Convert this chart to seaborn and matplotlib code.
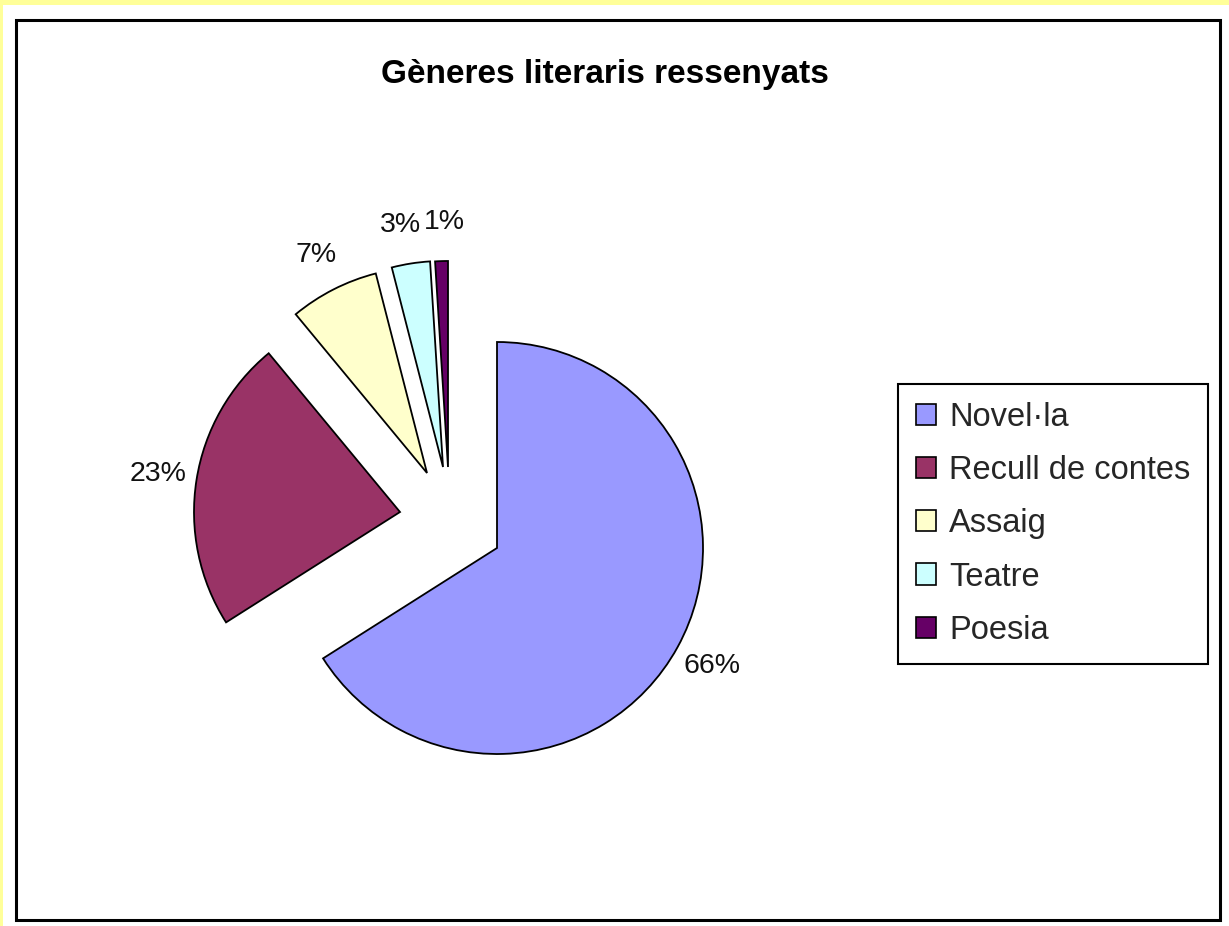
import matplotlib
matplotlib.use("Agg")
import matplotlib.pyplot as plt
import seaborn as sns
from matplotlib.patches import Rectangle, Patch

# ---- data ----
categories = ["Novel·la", "Recull de contes", "Assaig", "Teatre", "Poesia"]
values = [66, 23, 7, 3, 1]
title = "Gèneres literaris ressenyats"

sns.set_theme(style="white")
plt.rcParams["font.family"] = ["Liberation Sans", "DejaVu Sans"]

colors = sns.color_palette(["#9999FF", "#993366", "#FFFFCC", "#CCFFFF", "#660066"])

W, H = 1229, 926
cx, cy, r = 497, H - 548, 206
# layout: how far each slice is pulled out of the pie (pixels, y up)
slice_shift = [(0, 0), (-97, 36), (-70, 75), (-54, 81), (-49, 81)]
label_nudge = [(0, 0), (0, 0), (0, 0), (-4, 0), (4, 0)]

fig = plt.figure(figsize=(W / 100, H / 100), dpi=100)
fig.patch.set_facecolor("#FFFF99")

ax = fig.add_axes([0, 0, 1, 1])
ax.set_facecolor("none")

# white chart area and black frame (pixel coordinates, y up)
ax.add_patch(Rectangle((3, 0), W - 3, H - 5, facecolor="white", edgecolor="none", zorder=0))
ax.add_patch(Rectangle((16, H - 920), 1204, 900, facecolor="none", edgecolor="black",
                       linewidth=2.2, zorder=5))

wedges, texts, autotexts = ax.pie(
    values, colors=colors, startangle=90, counterclock=False,
    center=(cx, cy), radius=r, autopct="%d%%", pctdistance=1.19,
    wedgeprops=dict(edgecolor="black", linewidth=1.3),
    textprops=dict(fontsize=20.5, color="#111111"), frame=False,
)
for w, t, (dx, dy), (nx, ny) in zip(wedges, autotexts, slice_shift, label_nudge):
    wx, wy = w.center
    w.set_center((wx + dx, wy + dy))
    tx, ty = t.get_position()
    t.set_position((tx + dx + nx, ty + dy + ny))

ax.set_xlim(0, W)
ax.set_ylim(0, H)
ax.set_aspect("equal")
ax.axis("off")

fig.text(605 / W, 1 - 74 / H, title, ha="center", va="center",
         fontsize=24, fontweight="bold", color="black")

handles = [Patch(facecolor=c, edgecolor="black", linewidth=1.2) for c in colors]
leg = fig.legend(handles, categories, loc="upper left",
                 bbox_to_anchor=(898 / W, 1 - 384 / H),
                 fontsize=23.5, frameon=True, fancybox=False, shadow=False,
                 handlelength=0.62, handleheight=0.62, handletextpad=0.4,
                 labelspacing=0.68, borderpad=0.55, borderaxespad=0)
leg.get_frame().set_edgecolor("black")
leg.get_frame().set_linewidth(1.5)
leg.get_frame().set_facecolor("white")
leg.get_frame().set_alpha(1)

fig.savefig("out.png", dpi=100, facecolor=fig.get_facecolor())
